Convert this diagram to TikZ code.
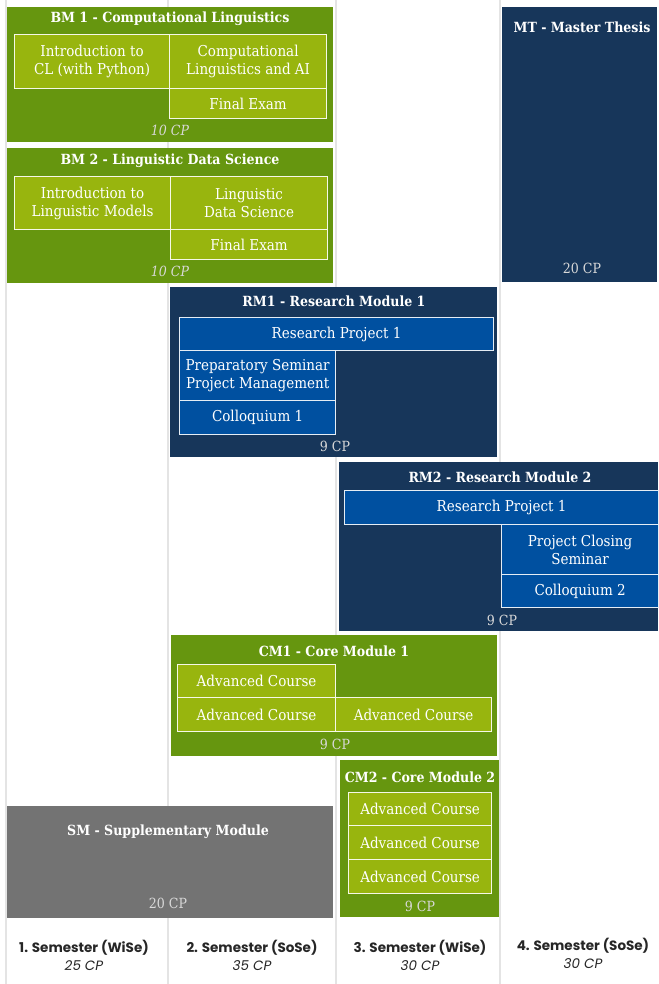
\documentclass[tikz,border=0pt]{standalone}
\usepackage{fontspec}
\setmainfont{DejaVu Serif Condensed}
\newfontfamily\semfont{Poppins}
\definecolor{modgreen}{HTML}{66960F}
\definecolor{crsgreen}{HTML}{98B50E}
\definecolor{modnavy}{HTML}{17365A}
\definecolor{crsblue}{HTML}{0050A0}
\definecolor{modgray}{HTML}{737373}
\definecolor{gridgray}{HTML}{E4E4E4}
\begin{document}
\begin{tikzpicture}[x=1pt, y=-1pt,
  module/.style={fill=#1, anchor=north west, inner sep=0pt},
  course/.style={fill=#1, draw=white!90!#1, line width=1.2pt, anchor=north west, text=white, align=center, inner sep=0pt, font=\fontsize{15}{18}\selectfont},
  title/.style={text=white, font=\bfseries\fontsize{14}{16}\selectfont},
  credits/.style={text=white!85!black, font=\fontsize{14}{16}\selectfont},
  semester/.style={align=center, text=black!85, font=\semfont\fontsize{13.5}{18}\selectfont}]
\useasboundingbox[fill=white] (0,0) rectangle (658,984);

% semester columns
\foreach \x in {6,168,336,500}
  \draw[gridgray, line width=1.5pt] (\x,0) -- (\x,984);

% BM 1
\node[module=modgreen, minimum width=326, minimum height=135] (bm1) at (7,7) {};
\node[title] (bm1t) at (170,19) {BM 1 - Computational Linguistics};
\node[course=crsgreen, minimum width=155, minimum height=54] (bm1a) at (14,34) {Introduction to\\CL (with Python)};
\node[course=crsgreen, minimum width=157, minimum height=54] (bm1b) at (169,34) {Computational\\Linguistics and AI};
\node[course=crsgreen, minimum width=157, minimum height=30] (bm1c) at (169,88) {Final Exam};
\node[credits] (bm1cp) at (170,130) {\itshape 10 CP};

% BM 2
\node[module=modgreen, minimum width=326, minimum height=135] (bm2) at (7,148) {};
\node[title] (bm2t) at (170,161) {BM 2 - Linguistic Data Science};
\node[course=crsgreen, minimum width=156, minimum height=53] (bm2a) at (14,176) {Introduction to\\Linguistic Models};
\node[course=crsgreen, minimum width=157, minimum height=53] (bm2b) at (170,176) {Linguistic\\Data Science};
\node[course=crsgreen, minimum width=157, minimum height=30] (bm2c) at (170,229) {Final Exam};
\node[credits] (bm2cp) at (170,271) {\itshape 10 CP};

% MT
\node[module=modnavy, minimum width=155, minimum height=275] (mt) at (502,7) {};
\node[title] (mtt) at (582,27) {MT - Master Thesis};
\node[credits] (mtcp) at (582,268) {20 CP};

% RM 1
\node[module=modnavy, minimum width=327, minimum height=170] (rm1) at (170,287) {};
\node[title] (rm1t) at (334,301) {RM1 - Research Module 1};
\node[course=crsblue, minimum width=314, minimum height=33] (rm1a) at (179,317) {Research Project 1};
\node[course=crsblue, minimum width=156, minimum height=50] (rm1b) at (179,350) {Preparatory Seminar\\Project Management};
\node[course=crsblue, minimum width=156, minimum height=34] (rm1c) at (179,400) {Colloquium 1};
\node[credits] (rm1cp) at (335,446) {9 CP};

% RM 2
\node[module=modnavy, minimum width=319, minimum height=169] (rm2) at (339,462) {};
\node[title] (rm2t) at (500,477) {RM2 - Research Module 2};
\node[course=crsblue, minimum width=314, minimum height=34] (rm2a) at (344,490) {Research Project 1};
\node[course=crsblue, minimum width=157, minimum height=50] (rm2b) at (501,524) {Project Closing\\Seminar};
\node[course=crsblue, minimum width=157, minimum height=33] (rm2c) at (501,574) {Colloquium 2};
\node[credits] (rm2cp) at (502,620) {9 CP};

% CM 1
\node[module=modgreen, minimum width=326, minimum height=121] (cm1) at (171,635) {};
\node[title] (cm1t) at (334,651) {CM1 - Core Module 1};
\node[course=crsgreen, minimum width=158, minimum height=33] (cm1a) at (177,664) {Advanced Course};
\node[course=crsgreen, minimum width=158, minimum height=34] (cm1b) at (177,697) {Advanced Course};
\node[course=crsgreen, minimum width=156, minimum height=34] (cm1c) at (335,697) {Advanced Course};
\node[credits] (cm1cp) at (335,744) {9 CP};

% CM 2
\node[module=modgreen, minimum width=159, minimum height=157] (cm2) at (340,760) {};
\node[title] (cm2t) at (420,777) {CM2 - Core Module 2};
\node[course=crsgreen, minimum width=143, minimum height=33] (cm2a) at (348,792) {Advanced Course};
\node[course=crsgreen, minimum width=143, minimum height=34] (cm2b) at (348,825) {Advanced Course};
\node[course=crsgreen, minimum width=143, minimum height=34] (cm2c) at (348,859) {Advanced Course};
\node[credits] (cm2cp) at (420,906) {9 CP};

% SM
\node[module=modgray, minimum width=326, minimum height=112] (sm) at (7,806) {};
\node[title] (smt) at (168,832) {SM - Supplementary Module};
\node[credits] (smcp) at (168,903) {20 CP};

% semesters
\node[semester] (sem1) at (84,955) {\bfseries 1. Semester (WiSe)\\\itshape 25 CP};
\node[semester] (sem2) at (252,955) {\bfseries 2. Semester (SoSe)\\\itshape 35 CP};
\node[semester] (sem3) at (420,955) {\bfseries 3. Semester (WiSe)\\\itshape 30 CP};
\node[semester] (sem4) at (583,953) {\bfseries 4. Semester (SoSe)\\\itshape 30 CP};
\end{tikzpicture}
\end{document}
